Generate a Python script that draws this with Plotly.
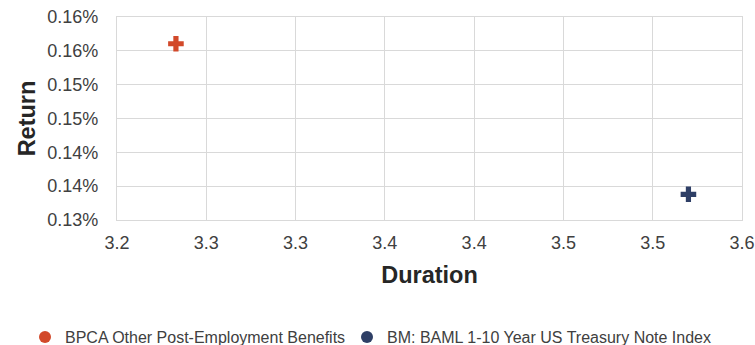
import plotly.graph_objects as go

series_names = ["BPCA Other Post-Employment Benefits", "BM: BAML 1-10 Year US Treasury Note Index"]
durations = [3.233, 3.520]
returns = [0.15605, 0.1338]
colors = ["#D2492A", "#2E3F66"]

x_tickvals = [3.2, 3.25, 3.3, 3.35, 3.4, 3.45, 3.5, 3.55]
x_ticktext = ["3.2", "3.3", "3.3", "3.4", "3.4", "3.5", "3.5", "3.6"]
y_tickvals = [0.13, 0.135, 0.14, 0.145, 0.15, 0.155, 0.16]
y_ticktext = ["0.13%", "0.14%", "0.14%", "0.15%", "0.15%", "0.16%", "0.16%"]

legend_ids = ["legend", "legend2"]
legend_x = [25, 347]

fig = go.Figure()
for name, x, y, c in zip(series_names, durations, returns, colors):
    fig.add_trace(go.Scatter(
        x=[x], y=[y], mode="markers", name=name, showlegend=False,
        marker=dict(symbol="cross", size=13, color=c, line=dict(width=0)),
    ))
# legend entries (circle swatches as in the original legend)
for name, c, lid in zip(series_names, colors, legend_ids):
    fig.add_trace(go.Scatter(
        x=[None], y=[None], mode="markers", name=name, showlegend=True, legend=lid,
        marker=dict(symbol="circle", size=7, color=c, line=dict(width=0)),
    ))

font = "Liberation Sans, Arial, sans-serif"
legend_common = dict(orientation="h", xref="container", yref="container",
                     xanchor="left", y=8 / 345, yanchor="middle",
                     font=dict(size=16, color="#404040"), itemsizing="constant",
                     itemwidth=30, bgcolor="rgba(0,0,0,0)")
fig.update_layout(
    width=755, height=345,
    margin=dict(l=117, r=13, t=17, b=125, autoexpand=False),
    paper_bgcolor="white", plot_bgcolor="white",
    font=dict(family=font, size=18, color="#404040"),
    showlegend=True,
    legend=dict(x=legend_x[0] / 755, **legend_common),
    legend2=dict(x=legend_x[1] / 755, **legend_common),
    xaxis=dict(range=[3.2, 3.55], tickvals=x_tickvals, ticktext=x_ticktext,
               showgrid=True, gridcolor="#D9D9D9", gridwidth=1.3,
               showline=True, linecolor="#D9D9D9", linewidth=1.3, mirror=True,
               zeroline=False, ticks="", ticklen=0, ticklabelstandoff=6,
               tickfont=dict(size=18, color="#404040"),
               title=dict(text="<b>Duration</b>", font=dict(size=23.5, color="#262626"), standoff=14)),
    yaxis=dict(range=[0.13, 0.16], tickvals=y_tickvals, ticktext=y_ticktext,
               showgrid=True, gridcolor="#D9D9D9", gridwidth=1.3,
               showline=True, linecolor="#D9D9D9", linewidth=1.3, mirror=True,
               zeroline=False, ticks="", ticklen=0, ticklabelstandoff=14,
               tickfont=dict(size=18, color="#404040"),
               title=dict(text="<b>Return</b>", font=dict(size=23.5, color="#262626"), standoff=4)),
)

fig.write_html("out.html")
